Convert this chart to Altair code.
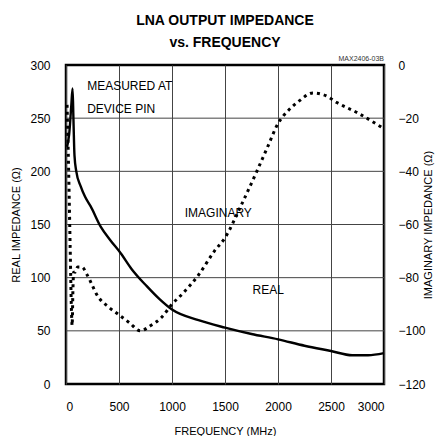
import altair as alt
import pandas as pd

# Real impedance (left axis, ohms)
freq_real = [10, 30, 50, 62, 70, 80, 97, 138, 180, 233, 327, 420, 516, 620, 762,
             880, 1000, 1250, 1500, 1750, 2000, 2250, 2500, 2700, 2850, 3000]
real_vals = [223, 235, 262, 278, 250, 215, 200, 186, 176, 167, 148, 135, 123, 108,
             92, 80, 70, 60, 53, 47, 42, 36, 31, 27, 27, 29]

# Imaginary impedance (right axis, ohms)
freq_imag = [10, 25, 40, 50, 58, 65, 72, 85, 110, 150, 200, 300, 400, 500, 600,
             700, 800, 900, 1000, 1100, 1250, 1400, 1500, 1650, 1800, 1900, 2000,
             2100, 2200, 2330, 2450, 2550, 2750, 3000]
imag_vals = [-15, -40, -70, -90, -98, -85, -78, -78, -76, -76, -79, -87, -91, -94,
             -97, -100, -98, -95, -90, -86, -79, -70, -65, -53, -40, -31, -22,
             -17, -13.5, -10.5, -11.5, -14, -18, -24]

# Annotations (in real-axis coordinates)
ann_text = ["MEASURED AT", "DEVICE PIN", "IMAGINARY", "REAL"]
ann_x = [200, 200, 1120, 1760]
ann_y = [280, 259, 161, 88]

x_ticks = [0, 500, 1000, 1500, 2000, 2500, 3000]
left_ticks = [0, 50, 100, 150, 200, 250, 300]

FONT = "Liberation Sans"

df_real = pd.DataFrame({"f": freq_real, "v": real_vals})
df_imag = pd.DataFrame({"f": freq_imag, "v": imag_vals})
df_ann = pd.DataFrame({"f": ann_x, "v": ann_y, "t": ann_text})
df_code = pd.DataFrame({"f": [3000], "v": [300], "t": ["MAX2406-03B"]})
df_grid = pd.DataFrame({"v": left_ticks[1:-1]})

xscale = alt.Scale(domain=[0, 3000], nice=False)
yscale = alt.Scale(domain=[0, 300], nice=False)

xenc = alt.X("f:Q", scale=xscale,
             axis=alt.Axis(values=x_ticks, format="d", title="FREQUENCY (MHz)",
                           grid=True, gridColor="#444", gridWidth=1,
                           domain=False, ticks=False, labelPadding=17,
                           titlePadding=13, labelFontSize=12, titleFontSize=11,
                           titleFontWeight="normal"))

hgrid = alt.Chart(df_grid).mark_rule(color="#444", strokeWidth=1).encode(
    y=alt.Y("v:Q", scale=yscale, axis=None),
)

real_line = alt.Chart(df_real).mark_line(
    color="black", strokeWidth=2.4, interpolate="monotone"
).encode(
    x=xenc,
    y=alt.Y("v:Q", scale=yscale,
            axis=alt.Axis(values=left_ticks, title="REAL IMPEDANCE (Ω)",
                          grid=False, domain=False, ticks=False,
                          labelPadding=16, titlePadding=8, labelFontSize=12,
                          titleFontSize=11, titleFontWeight="normal")),
)

# imaginary axis: -120..0 mapped onto the 0..300 frame
imag_line = alt.Chart(df_imag).transform_calculate(
    vr="(datum.v + 120) * 2.5"
).mark_line(
    color="black", strokeWidth=3, strokeDash=[3, 4], interpolate="monotone"
).encode(
    x=alt.X("f:Q", scale=xscale),
    y=alt.Y("vr:Q", scale=yscale,
            axis=alt.Axis(orient="right", values=left_ticks,
                          labelExpr="format(datum.value * 0.4 - 120, 'd')",
                          title="IMAGINARY IMPEDANCE (Ω)", grid=False,
                          domain=False, ticks=False, labelPadding=14,
                          titlePadding=8, labelFontSize=12, titleFontSize=11,
                          titleFontWeight="normal", titleAngle=270)),
)

ann = alt.Chart(df_ann).mark_text(
    font=FONT, fontSize=12, align="left", baseline="middle", color="black"
).encode(
    x=alt.X("f:Q", scale=xscale),
    y=alt.Y("v:Q", scale=yscale, axis=None),
    text="t:N",
)

code = alt.Chart(df_code).mark_text(
    font=FONT, fontSize=7, align="right", baseline="bottom", dy=-3, color="#333"
).encode(
    x=alt.X("f:Q", scale=xscale),
    y=alt.Y("v:Q", scale=yscale, axis=None),
    text="t:N",
)

chart = alt.layer(hgrid, real_line, imag_line, ann, code).resolve_axis(
    y="independent"
).properties(
    width=318,
    height=319,
    title=alt.TitleParams(
        text=["LNA OUTPUT IMPEDANCE", "vs. FREQUENCY"],
        font=FONT, fontSize=14, fontWeight="bold", anchor="middle",
        lineHeight=22, offset=5, color="black",
    ),
    autosize=alt.AutoSizeParams(type="none"),
    padding={"left": 58, "top": 57, "right": 51, "bottom": 52},
).configure_view(
    stroke="black", strokeWidth=2.5
).configure_axis(
    labelFont=FONT, titleFont=FONT, labelColor="black", titleColor="black"
)

chart.save("out.html", embed_options={"renderer": "svg", "actions": False})
